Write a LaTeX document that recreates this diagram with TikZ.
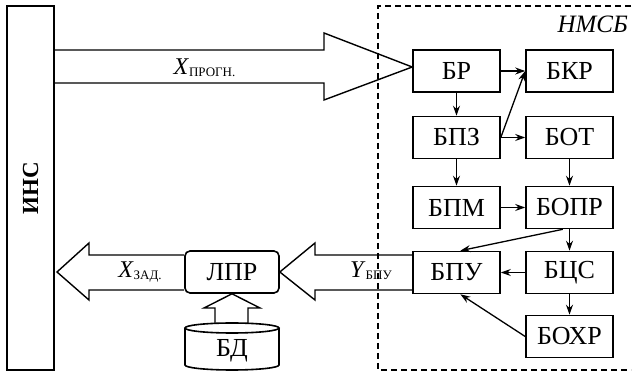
\documentclass[tikz,border=0pt]{standalone}
\usepackage{fontspec}
\setmainfont{Liberation Serif}
\usetikzlibrary{arrows.meta}

\begin{document}
\begin{tikzpicture}[x=1pt,y=1pt,
  >={Stealth[length=10pt,width=7pt]},
  blk/.style={draw,line width=1.6pt,minimum width=87pt,minimum height=42pt,inner sep=0pt,font=\fontsize{26}{28}\selectfont},
  bigarr/.style={line width=1.4pt,line join=miter},
  link/.style={->,line width=1.3pt},
  lbl/.style={inner sep=0pt,anchor=base,font=\fontsize{24}{26}\selectfont}]
\useasboundingbox (0,0) rectangle (632,372);

\node[draw,line width=1.6pt,minimum width=47pt,minimum height=364pt,inner sep=0pt] (ins) at (30.5,184) {};
\node[rotate=90,font=\fontsize{23}{25}\selectfont\bfseries] (instext) at (ins.center) {ИНС};

\draw[line width=1.2pt,dash pattern=on 6pt off 4pt] (631,366) -| (378,2) -- (631,2);
\node[anchor=base east,inner sep=0pt,font=\fontsize{25}{27}\selectfont\itshape] (nmsb) at (628,339) {НМСБ};

\node[blk] (br) at (456.5,301) {БР};
\node[blk] (bkr) at (569.5,301) {БКР};
\node[blk] (bpz) at (456.5,234.5) {БПЗ};
\node[blk] (bot) at (569.5,234.5) {БОТ};
\node[blk] (bpm) at (456.5,164.5) {БПМ};
\node[blk] (bopr) at (569.5,164.5) {БОПР};
\node[blk] (bpu) at (456.5,99.5) {БПУ};
\node[blk] (bcs) at (569.5,99.5) {БЦС};
\node[blk] (boxr) at (569.5,35.5) {БОХР};

\node[blk,rounded corners=5pt,minimum width=94pt] (lpr) at (232,100) {ЛПР};
\node[inner sep=0pt,font=\fontsize{26}{28}\selectfont] (bd) at (232,21) {БД};
\draw[line width=1.6pt] (185,44) -- (185,7) arc[start angle=180,end angle=360,x radius=47pt,y radius=5pt] -- (279,44);
\draw[line width=1.6pt] (232,44) ellipse[x radius=47pt,y radius=5pt];

\draw[bigarr] (ins.east |- 0,322) -- (324,322) -- (324,339) -- ([yshift=4pt]br.west) -- (324,272) -- (324,289) -- (ins.east |- 0,289);
\draw[bigarr] (lpr.west |- 0,117) -- (89,117) -- (89,129) -- (57,100) -- (89,72) -- (89,82) -- (lpr.west |- 0,82);
\draw[bigarr] (bpu.west |- 0,117) -- (315,117) -- (315,129) -- (lpr.east) -- (315,72) -- (315,82) -- (bpu.west |- 0,82);
\draw[bigarr] (215,49) -- (215,64) -- (204,64) -- (lpr.south) -- (260,64) -- (248,64) -- (248,49);

\node[lbl] (xprog) at (204.5,297) {\textit{X}\raisebox{-1.5pt}{\fontsize{13}{14}\selectfont ПРОГН.}};
\node[lbl] (xzad) at (140,94) {\textit{X}\raisebox{-1.5pt}{\fontsize{13}{14}\selectfont ЗАД.}};
\node[lbl] (ybpu) at (371,94) {\textit{Y}\raisebox{-1.5pt}{\fontsize{13}{14}\selectfont БПУ}};

\draw[link] (br) -- (bkr);
\draw[link] (br) -- (bpz);
\draw[link] (bpz.east) -- (bkr.west);
\draw[link] (bpz) -- (bot);
\draw[link] (bpz) -- (bpm);
\draw[link] (bot) -- (bopr);
\draw[link] (bpm) -- (bopr);
\draw[link] (bopr) -- (bcs);
\draw[link] (bopr.253) -- (bpu.80);
\draw[link] (bcs) -- (bpu);
\draw[link] (bcs) -- (boxr);
\draw[link] (boxr.west) -- (bpu.280);
\end{tikzpicture}
\end{document}
